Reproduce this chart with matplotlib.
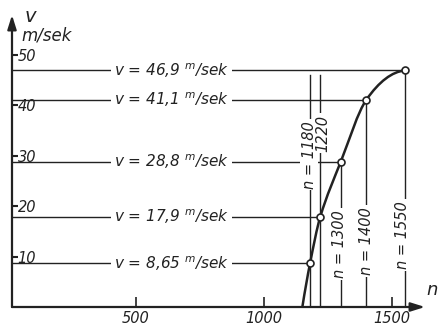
import matplotlib
matplotlib.use("Agg")
import matplotlib.pyplot as plt
from matplotlib.path import Path
from matplotlib.patches import PathPatch
import numpy as np

# ---- data ----
v_values = [8.65, 17.9, 28.8, 41.1, 46.9]          # m/sek
n_values = [1180, 1220, 1300, 1400, 1550]          # rpm
v_labels = ["v = 8,65 ${}^{m}$/sek", "v = 17,9 ${}^{m}$/sek", "v = 28,8 ${}^{m}$/sek",
            "v = 41,1 ${}^{m}$/sek", "v = 46,9 ${}^{m}$/sek"]
n_labels = ["n = 1180", "1220", "n = 1300", "n = 1400", "n = 1550"]
curve_n = [1150, 1180, 1220, 1300, 1400, 1550]
curve_v = [0, 8.65, 17.9, 28.8, 41.1, 46.9]
x_ticks = [500, 1000, 1500]
y_ticks = [10, 20, 30, 40, 50]

plt.rcParams['font.family'] = ['DejaVu Sans']
plt.rcParams['font.style'] = 'italic'
plt.rcParams['mathtext.fontset'] = 'custom'
plt.rcParams['mathtext.it'] = 'DejaVu Sans:italic'
plt.rcParams['mathtext.rm'] = 'DejaVu Sans:italic'

W, H = 439, 326
fig = plt.figure(figsize=(W / 100, H / 100), dpi=100)

# axes placement in pixels
px_left, px_right, px_bottom, px_top = 12, 425, 307, 15
ax = fig.add_axes([px_left / W, (H - px_bottom) / H,
                   (px_right - px_left) / W, (px_bottom - px_top) / H])
ax.set_xlim(16, 1629)
ax.set_ylim(0, 57.9)
ax.set_facecolor('none')
for s in ['top', 'right', 'left', 'bottom']:
    ax.spines[s].set_visible(False)

lc = '#222222'
# axes as arrows
arrow_kw = dict(arrowstyle='-|>,head_length=0.7,head_width=0.22', color=lc,
                lw=1.6, shrinkA=0, shrinkB=0, mutation_scale=12)
ax.annotate('', xy=(16, 57.9), xytext=(16, 0), xycoords='data',
            arrowprops=arrow_kw, annotation_clip=False)
ax.annotate('', xy=(1629, 0), xytext=(16, 0), xycoords='data',
            arrowprops=arrow_kw, annotation_clip=False)

# ticks
ax.set_xticks(x_ticks)
ax.set_xticklabels([str(t) for t in x_ticks], fontsize=10.5)
ax.tick_params(axis='x', direction='in', length=7, width=1.2, pad=3, colors=lc)
ax.set_yticks(y_ticks)
ax.set_yticklabels([str(t) for t in y_ticks], fontsize=10.5)
ax.tick_params(axis='y', direction='in', length=4, width=1.5, pad=-4, colors=lc)
for lbl in ax.get_yticklabels():
    lbl.set_horizontalalignment('left')

# horizontal lines with labels
for v, n, lab in zip(v_values, n_values, v_labels):
    ax.plot([16, n], [v, v], color=lc, lw=1.0, zorder=2)
    ax.text(415, v, lab, ha='left', va='center', fontsize=11, color=lc,
            bbox=dict(boxstyle='square,pad=0.2', fc='white', ec='none'),
            zorder=3)

# vertical lines
v_top_short = 46.0
label_pos = [(1176, 30.2), (1230, 34.5), (1297, 12.5), (1402, 13.1), (1543, 14.3)]
for i, (n, v) in enumerate(zip(n_values, v_values)):
    top = v_top_short if i < 2 else v
    ax.plot([n, n], [0, top], color=lc, lw=1.0, zorder=2)
    lx, ly = label_pos[i]
    ax.text(lx, ly, n_labels[i], rotation=90, ha='center', va='center',
            fontsize=10.5, color=lc,
            bbox=dict(boxstyle='square,pad=0.12', fc='white', ec='none'),
            zorder=3)

# smooth curve through the points (finite-difference tangents, cubic Bezier)
x = np.array(curve_n, float)
y = np.array(curve_v, float)
h = np.diff(x)
d = np.diff(y) / h
m = np.zeros_like(x)
for k in range(1, len(x) - 1):
    m[k] = (y[k + 1] - y[k - 1]) / (x[k + 1] - x[k - 1])
m[0] = 2 * d[0] - m[1]
m[-1] = max(2 * d[-1] - m[-2], 0.0)
verts = [(x[0], y[0])]
codes = [Path.MOVETO]
for k in range(len(x) - 1):
    hk = h[k]
    verts += [(x[k] + hk / 3, y[k] + m[k] * hk / 3),
              (x[k + 1] - hk / 3, y[k + 1] - m[k + 1] * hk / 3),
              (x[k + 1], y[k + 1])]
    codes += [Path.CURVE4] * 3
ax.add_patch(PathPatch(Path(verts, codes), fc='none', ec=lc, lw=1.8, zorder=4))

ax.plot(n_values, v_values, 'o', ms=5, mfc='white', mec=lc, mew=1.2, zorder=5)

# axis labels
fig.text(30 / W, 1 - 17 / H, 'v', fontsize=14, ha='center', va='center', color=lc)
fig.text(47 / W, 1 - 35 / H, 'm/sek', fontsize=12, ha='center', va='center', color=lc)
fig.text(432 / W, 1 - 290 / H, 'n', fontsize=13, ha='center', va='center', color=lc)

fig.savefig('out.png', dpi=100, facecolor='white')
